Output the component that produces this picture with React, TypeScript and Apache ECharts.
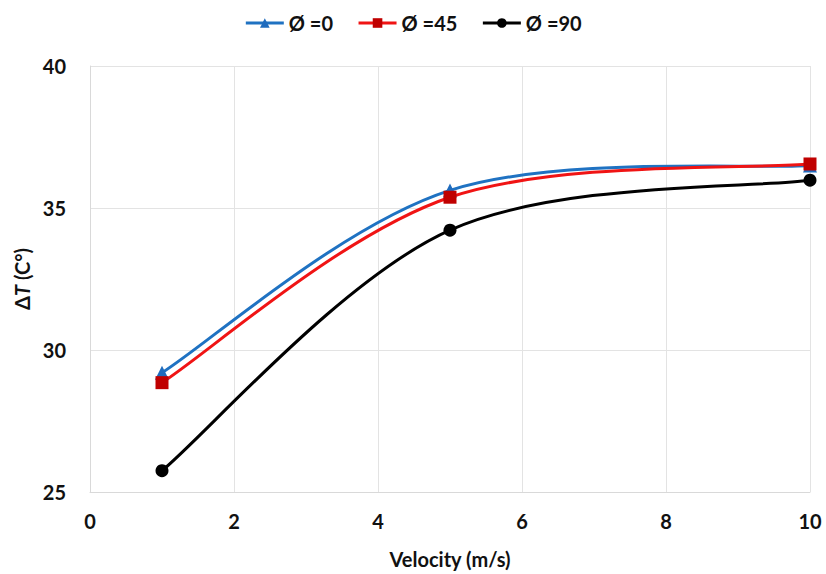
import React, { useEffect, useRef } from "react";
import * as echarts from "echarts";

// Velocity (m/s) sampled for each angle
const velocity = [1, 5, 10];
// Temperature rise ΔT (°C) for each inclination angle
const dT0 = [29.2, 35.62, 36.5];
const dT45 = [28.85, 35.38, 36.55];
const dT90 = [25.75, 34.22, 35.98];

const seriesNames = ["Ø =0", "Ø =45", "Ø =90"];
const lineColors = ["#1f72c2", "#f01414", "#000000"];
const markerColors = ["#1f6bbd", "#c00000", "#000000"];
const seriesSymbols = ["triangle", "rect", "circle"];

const FONT = "Lato, 'Open Sans', sans-serif";
const TEXT = { fontFamily: FONT, fontWeight: "bold" as const, fontSize: 20, color: "#111" };

// Smoothed curve in the spreadsheet style: cubic Bezier segments with
// Catmull-Rom control points (tension 1/6), end points duplicated.
function curveSeries(name: string, ys: number[], color: string) {
  const n = velocity.length;
  return {
    name,
    type: "custom",
    z: 1,
    silent: true,
    clip: true,
    encode: { x: 0, y: 1 },
    data: velocity.map((v, k) => [v, ys[k]]),
    renderItem: (params: any, api: any) => {
      const i = params.dataIndex;
      if (i >= n - 1) return { type: "group", children: [] };
      const pt = (k: number) => {
        const c = Math.max(0, Math.min(n - 1, k));
        return api.coord([velocity[c], ys[c]]);
      };
      const p0 = pt(i - 1);
      const p1 = pt(i);
      const p2 = pt(i + 1);
      const p3 = pt(i + 2);
      return {
        type: "bezierCurve",
        shape: {
          x1: p1[0],
          y1: p1[1],
          x2: p2[0],
          y2: p2[1],
          cpx1: p1[0] + (p2[0] - p0[0]) / 6,
          cpy1: p1[1] + (p2[1] - p0[1]) / 6,
          cpx2: p2[0] - (p3[0] - p1[0]) / 6,
          cpy2: p2[1] - (p3[1] - p1[1]) / 6,
        },
        style: { stroke: color, lineWidth: 3, fill: "none" },
      };
    },
  };
}

export default function App() {
  const ref = useRef<HTMLDivElement>(null);

  useEffect(() => {
    if (!ref.current) return;
    const chart = echarts.init(ref.current, undefined, { renderer: "svg" });
    const data = [dT0, dT45, dT90];

    // Marker series (points only); the legend draws its own line sample
    const markerSeries = seriesNames.map((name, i) => ({
      name,
      type: "line",
      z: 3,
      smooth: false,
      symbol: seriesSymbols[i],
      symbolSize: i === 0 ? 14 : 13,
      showSymbol: true,
      lineStyle: { width: 0, opacity: 0, color: lineColors[i] },
      itemStyle: { color: markerColors[i] },
      data: velocity.map((v, k) => [v, data[i][k]]),
    }));

    const curves = seriesNames.map((name, i) => curveSeries(name, data[i], lineColors[i]));

    chart.setOption({
      animation: false,
      backgroundColor: "#ffffff",
      textStyle: { fontFamily: FONT },
      legend: {
        top: 8,
        left: "center",
        itemWidth: 38,
        itemHeight: 12,
        itemGap: 24,
        textStyle: { ...TEXT, fontSize: 20 },
        data: seriesNames.map((name, i) => ({
          name,
          itemStyle: { color: markerColors[i] },
          lineStyle: { color: lineColors[i], width: 3, opacity: 1 },
        })),
      },
      grid: { left: 90, right: 16, top: 66, bottom: 80, containLabel: false },
      xAxis: {
        type: "value",
        min: 0,
        max: 10,
        interval: 2,
        name: "Velocity (m/s)",
        nameLocation: "middle",
        nameGap: 57,
        nameTextStyle: TEXT,
        axisLine: { show: true, lineStyle: { color: "#d9d9d9", width: 1 } },
        axisTick: { show: false },
        axisLabel: { ...TEXT, margin: 19 },
        splitLine: { show: true, lineStyle: { color: "#e3e3e3", width: 1 } },
      },
      yAxis: {
        type: "value",
        min: 25,
        max: 40,
        interval: 5,
        name: "{n|Δ}{i|T}{n| (C°)}",
        nameLocation: "middle",
        nameGap: 52,
        nameRotate: 90,
        nameTextStyle: {
          ...TEXT,
          rich: {
            n: { ...TEXT },
            i: { ...TEXT, fontStyle: "italic" },
          },
        },
        axisLine: { show: true, lineStyle: { color: "#d9d9d9", width: 1 } },
        axisTick: { show: false },
        axisLabel: { ...TEXT, margin: 24 },
        splitLine: { show: true, lineStyle: { color: "#e3e3e3", width: 1 } },
      },
      series: [...markerSeries, ...curves],
    });

    return () => chart.dispose();
  }, []);

  return (
    <div
      ref={ref}
      style={{ position: "absolute", left: 0, top: 0, width: 826, height: 574 }}
    />
  );
}
